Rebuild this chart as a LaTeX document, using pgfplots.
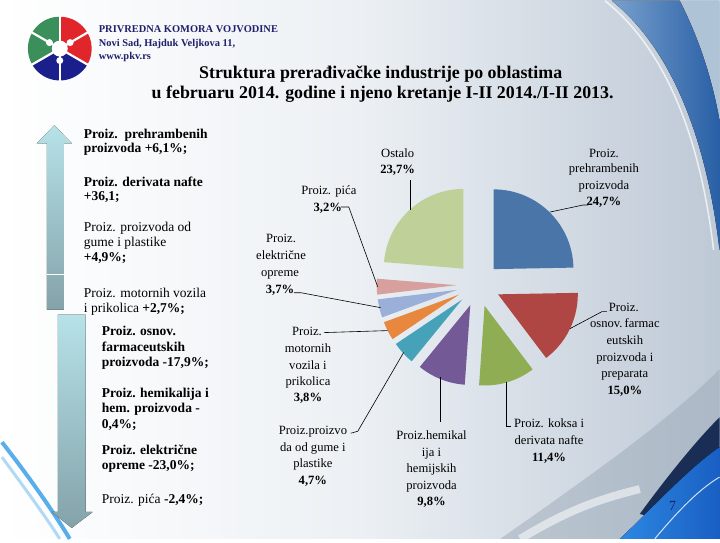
\documentclass[border=0pt]{standalone}
\usepackage{pgfplots}
\pgfplotsset{compat=1.18}
\usepackage{pgfplotstable}
\usepackage{fontspec}
\setmainfont{Liberation Serif}

\definecolor{pieA}{HTML}{4A75A8}
\definecolor{pieB}{HTML}{AF4644}
\definecolor{pieC}{HTML}{8FAE53}
\definecolor{pieD}{HTML}{735A96}
\definecolor{pieE}{HTML}{45A2B8}
\definecolor{pieF}{HTML}{E8883E}
\definecolor{pieG}{HTML}{9AB0D8}
\definecolor{pieH}{HTML}{D79F9D}
\definecolor{pieI}{HTML}{BFD199}
\definecolor{navy}{HTML}{1F1F6B}
\definecolor{lgreen}{HTML}{3A8F5A}
\definecolor{lred}{HTML}{E0262B}
\definecolor{lblue}{HTML}{1A1F8C}
\definecolor{bgR}{RGB}{190,201,214}
\definecolor{bgM}{RGB}{236,240,244}
\definecolor{swA}{RGB}{40,95,165}
\definecolor{swB}{RGB}{120,160,205}
\definecolor{swG}{RGB}{175,195,215}
\definecolor{swC}{RGB}{45,135,225}
\definecolor{swD}{RGB}{25,95,195}
\definecolor{swN}{RGB}{25,45,85}
\definecolor{swS}{RGB}{150,165,180}
\definecolor{swF}{RGB}{60,160,232}
\definecolor{arT}{RGB}{182,226,232}
\definecolor{arB}{RGB}{132,162,170}

\pgfplotstableread{
share colour
24.7 pieA
15.0 pieB
11.4 pieC
9.8 pieD
4.7 pieE
3.8 pieF
3.7 pieG
3.2 pieH
23.7 pieI
}\piedata

\newcommand\lf{\fontsize{13.6}{15}\selectfont}
\newcommand\pf{\fontsize{12.7}{16}\selectfont}
\tikzset{
  L/.style={anchor=base west, inner sep=0pt, font=\lf},
  P/.style={anchor=base, inner sep=0pt, font=\pf},
}

\begin{document}
\begin{tikzpicture}
\begin{axis}[
  at={(0,0)}, anchor=south west,
  scale only axis, width=720bp, height=540bp,
  xmin=0, xmax=720, ymin=0, ymax=540, y dir=reverse,
  hide axis, clip=false,
]
% background
\fill[left color=white, right color=bgR, middle color=bgM]
  (axis cs:0,0) rectangle (axis cs:720,540);
% top-right ribbon
\fill[swG] (axis cs:680,0) .. controls (axis cs:700,40) and (axis cs:715,80) .. (axis cs:720,120) -- (axis cs:720,0) -- cycle;
\fill[left color=swB, right color=swA]
  (axis cs:612,0) .. controls (axis cs:668,45) and (axis cs:706,130) .. (axis cs:720,250)
  -- (axis cs:720,120) .. controls (axis cs:712,75) and (axis cs:698,35) .. (axis cs:680,0) -- cycle;
\draw[white, line width=1.5bp, opacity=0.7]
  (axis cs:605,0) .. controls (axis cs:662,45) and (axis cs:700,130) .. (axis cs:714,250);
% bottom-right wave
\fill[swS, opacity=0.45]
  (axis cs:500,540) .. controls (axis cs:600,470) and (axis cs:670,420) .. (axis cs:720,370) -- (axis cs:720,540) -- cycle;
\draw[white, line width=8bp, opacity=0.55]
  (axis cs:520,540) .. controls (axis cs:570,510) and (axis cs:600,500) .. (axis cs:640,490);
\fill[swN]
  (axis cs:640,515) .. controls (axis cs:670,474) and (axis cs:698,440) .. (axis cs:720,418)
  -- (axis cs:720,470) -- (axis cs:660,520) -- cycle;
\fill[left color=swC, right color=swD]
  (axis cs:620,540) .. controls (axis cs:650,512) and (axis cs:688,470) .. (axis cs:720,448)
  -- (axis cs:720,540) -- (axis cs:620,540) -- cycle;
\draw[white, line width=1bp, opacity=0.8]
  (axis cs:655,540) .. controls (axis cs:680,510) and (axis cs:700,490) .. (axis cs:720,478);
% bottom-left streaks
\draw[swF, line width=4bp, opacity=0.85]
    (axis cs:0,443) .. controls (axis cs:25,475) and (axis cs:50,510) .. (axis cs:68,540);
\draw[swF!50, line width=3bp, opacity=0.8]
    (axis cs:0,458) .. controls (axis cs:22,488) and (axis cs:42,515) .. (axis cs:58,540);
\draw[white, line width=1.5bp]
    (axis cs:0,497) .. controls (axis cs:15,510) and (axis cs:30,525) .. (axis cs:43,540);

% logo
\fill[lred] (axis cs:58,48) -- ++(30:32bp) arc[start angle=30, end angle=90, radius=32bp] -- cycle;
\fill[lred] (axis cs:58,48) -- ++(-30:32bp) arc[start angle=-30, end angle=30, radius=32bp] -- cycle;
\fill[lgreen] (axis cs:58,48) -- ++(90:32bp) arc[start angle=90, end angle=210, radius=32bp] -- cycle;
\fill[lblue] (axis cs:58,48) -- ++(210:32bp) arc[start angle=210, end angle=330, radius=32bp] -- cycle;
\draw[white, line width=2.2bp] (axis cs:58,48) -- ++(90:33bp);
\draw[white, line width=2.2bp] (axis cs:58,48) -- ++(30:33bp);
\draw[white, line width=2.2bp] (axis cs:58,48) -- ++(-30:33bp);
\draw[white, line width=2.2bp] (axis cs:58,48) -- ++(-90:33bp);
\draw[white, line width=2.2bp] (axis cs:58,48) -- ++(-150:33bp);
\draw[white, line width=2.2bp] (axis cs:58,48) -- ++(150:33bp);
\fill[white] (axis cs:58,48) ++(30:12bp) circle[radius=3.5bp];
\fill[white] (axis cs:58,48) ++(150:12bp) circle[radius=3.5bp];
\fill[white] (axis cs:58,48) ++(270:12bp) circle[radius=3.5bp];
\fill[white] (axis cs:58,48) circle[radius=8bp];

\node[anchor=base west, inner sep=0, text=navy, font=\fontsize{10.5}{12}\selectfont\bfseries] at (axis cs:97,32) {PRIVREDNA KOMORA VOJVODINE};
\node[anchor=base west, inner sep=0, text=navy, font=\fontsize{10.5}{12}\selectfont\bfseries] at (axis cs:97,45.5) {Novi Sad, Hajduk Veljkova 11,};
\node[anchor=base west, inner sep=0, text=navy, font=\fontsize{10.5}{12}\selectfont\bfseries] at (axis cs:97,58.5) {www.pkv.rs};

% title
\node[anchor=base, inner sep=0, font=\fontsize{18}{20}\selectfont\bfseries] at (axis cs:380,78) {Struktura prerađivačke industrije po oblastima};
\node[anchor=base, inner sep=0, font=\fontsize{18}{20}\selectfont\bfseries] at (axis cs:382,98) {u februaru 2014. godine i njeno kretanje I-II 2014./I-II 2013.};

% arrows
\fill[top color=arT, bottom color=arB]
  (axis cs:52.5,125) -- (axis cs:70,143) -- (axis cs:62,143) -- (axis cs:62,310) -- (axis cs:45,310) -- (axis cs:45,143) -- (axis cs:35,143) -- cycle;
\draw[white, line width=1bp] (axis cs:45,275) -- (axis cs:62,275);
\fill[top color=arT, bottom color=arB]
  (axis cs:56,315) -- (axis cs:84,315) -- (axis cs:84,513) -- (axis cs:91,513) -- (axis cs:70,529) -- (axis cs:50,513) -- (axis cs:56,513) -- cycle;

% left texts
\node[L] at (axis cs:82,138) {\textbf{Proiz.\ \ prehrambenih}};
\node[L] at (axis cs:82,152) {\textbf{proizvoda +6,1\%;}};
\node[L] at (axis cs:82,186) {\textbf{Proiz. derivata nafte}};
\node[L] at (axis cs:82,200) {\textbf{+36,1;}};
\node[L] at (axis cs:82,232) {Proiz. proizvoda od};
\node[L] at (axis cs:82,247) {gume i plastike};
\node[L] at (axis cs:82,262) {\textbf{+4,9\%;}};
\node[L] at (axis cs:82,298) {Proiz. motornih vozila};
\node[L] at (axis cs:82,313) {i prikolica \textbf{+2,7\%;}};
\node[L] at (axis cs:100,336) {\textbf{Proiz. osnov.}};
\node[L] at (axis cs:100,352) {\textbf{farmaceutskih}};
\node[L] at (axis cs:100,367) {\textbf{proizvoda -17,9\%;}};
\node[L] at (axis cs:100,398) {\textbf{Proiz. hemikalija i}};
\node[L] at (axis cs:100,413) {\textbf{hem. proizvoda -}};
\node[L] at (axis cs:100,429) {\textbf{0,4\%;}};
\node[L] at (axis cs:100,455) {\textbf{Proiz. električne}};
\node[L] at (axis cs:100,470) {\textbf{opreme -23,0\%;}};
\node[L] at (axis cs:100,504) {Proiz. pića \textbf{-2,4\%;}};

% pie slices (exploded), clockwise from top
\pgfplotstablegetrowsof{\piedata}
\pgfmathtruncatemacro{\lastrow}{\pgfplotsretval-1}
\xdef\angstart{-90}
\pgfplotsforeachungrouped \i in {0,...,\lastrow}{%
  \pgfplotstablegetelem{\i}{share}\of\piedata \let\share\pgfplotsretval
  \pgfplotstablegetelem{\i}{colour}\of\piedata \let\col\pgfplotsretval
  \pgfmathsetmacro\angend{\angstart+3.6*\share}%
  \pgfmathsetmacro\angmid{(\angstart+\angend)/2}%
  \pgfmathsetmacro\cxs{478+22*cos(\angmid)}%
  \pgfmathsetmacro\cys{285+22*sin(\angmid)}%
  \edef\doslice{\noexpand\addplot[fill=\col, draw=none, domain=\angstart:\angend, samples=61]
     ({\cxs+80*cos(x)},{\cys+80*sin(x)}) -- (axis cs:\cxs,\cys) -- cycle;}%
  \doslice
  \xdef\angstart{\angend}%
}

% leader lines
\draw[black, line width=0.6bp] (axis cs:410,180) -- (axis cs:410,210);
\draw[black, line width=0.6bp] (axis cs:340,207) -- (axis cs:348,207) -- (axis cs:377,287);
\draw[black, line width=0.6bp] (axis cs:293,293) -- (axis cs:300,293) -- (axis cs:380,308);
\draw[black, line width=0.6bp] (axis cs:323,333) -- (axis cs:387,331);
\draw[black, line width=0.6bp] (axis cs:350,434) -- (axis cs:357,432) -- (axis cs:403,353);
\draw[black, line width=0.6bp] (axis cs:440,378) -- (axis cs:440,423);
\draw[black, line width=0.6bp] (axis cs:506,383) -- (axis cs:506,427) -- (axis cs:511,427);
\draw[black, line width=0.6bp] (axis cs:570,329) -- (axis cs:602,312) -- (axis cs:607,312);
\draw[black, line width=0.6bp] (axis cs:550,212) -- (axis cs:583,205) -- (axis cs:588,205);

% pie labels
\node[P] at (axis cs:397,157) {Ostalo};
\node[P] at (axis cs:397,173) {\textbf{23,7\%}};
\node[P] at (axis cs:328,194) {Proiz. pića};
\node[P] at (axis cs:327,211) {\textbf{3,2\%}};
\node[P] at (axis cs:280,243) {Proiz.};
\node[P] at (axis cs:280,260) {električne};
\node[P] at (axis cs:279,277) {opreme};
\node[P] at (axis cs:279,294) {\textbf{3,7\%}};
\node[P] at (axis cs:306,336) {Proiz.};
\node[P] at (axis cs:307,353) {motornih};
\node[P] at (axis cs:307,370) {vozila i};
\node[P] at (axis cs:307,386) {prikolica};
\node[P] at (axis cs:307,402) {\textbf{3,8\%}};
\node[P] at (axis cs:312,435) {Proiz.proizvo};
\node[P] at (axis cs:312,452) {da od gume i};
\node[P] at (axis cs:312,468) {plastike};
\node[P] at (axis cs:312,485) {\textbf{4,7\%}};
\node[P] at (axis cs:431,440) {Proiz.hemikal};
\node[P] at (axis cs:431,457) {ija i};
\node[P] at (axis cs:431,473) {hemijskih};
\node[P] at (axis cs:431,490) {proizvoda};
\node[P] at (axis cs:431,507) {\textbf{9,8\%}};
\node[P] at (axis cs:549,428) {Proiz. koksa i};
\node[P] at (axis cs:549,445) {derivata nafte};
\node[P] at (axis cs:549,462) {\textbf{11,4\%}};
\node[P] at (axis cs:624,312) {Proiz.};
\node[P] at (axis cs:625,328) {osnov.\,farmac};
\node[P] at (axis cs:625,345) {eutskih};
\node[P] at (axis cs:625,362) {proizvoda i};
\node[P] at (axis cs:625,378) {preparata};
\node[P] at (axis cs:625,395) {\textbf{15,0\%}};
\node[P] at (axis cs:604,157) {Proiz.};
\node[P] at (axis cs:604,172) {prehrambenih};
\node[P] at (axis cs:604,189) {proizvoda};
\node[P] at (axis cs:604,205) {\textbf{24,7\%}};

% page number
\node[anchor=base, inner sep=0, text=navy, font=\fontsize{14}{16}\selectfont] at (axis cs:673,512) {7};
\end{axis}
\end{tikzpicture}
\end{document}
